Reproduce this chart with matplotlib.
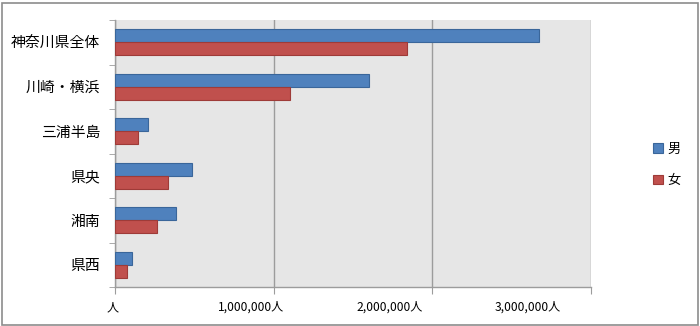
import numpy as np
import matplotlib.pyplot as plt
from matplotlib.ticker import FuncFormatter, FixedLocator
from matplotlib.patches import Rectangle
from matplotlib.transforms import ScaledTranslation

plt.rcParams['font.family'] = ['Noto Sans CJK JP', 'DejaVu Sans']

# 地域別人口（男女）
regions = ['神奈川県全体', '川崎・横浜', '三浦半島', '県央', '湘南', '県西']
male = [2671000, 1602000, 206000, 484000, 387000, 107000]
female = [1842000, 1100000, 145000, 332000, 263000, 78000]
series_names = ['男', '女']
x_ticks = [0, 1000000, 2000000, 3000000]

fig = plt.figure(figsize=(7, 3.26), dpi=100)
ax = fig.add_axes([115 / 700, 1 - 287 / 326, 476 / 700, 267 / 326])

y = np.arange(len(regions))[::-1]
h = 0.292
ax.barh(y + h / 2, male, height=h, color='#4F81BD', edgecolor='#3A669A', linewidth=0.8, label=series_names[0], zorder=3)
ax.barh(y - h / 2, female, height=h, color='#C0504D', edgecolor='#9E3B38', linewidth=0.8, label=series_names[1], zorder=3)

ax.set_facecolor('#E6E6E6')
ax.set_xlim(0, 3000000)
ax.set_ylim(-0.5, len(regions) - 0.5)
ax.set_xticks(x_ticks)
ax.xaxis.set_major_formatter(FuncFormatter(lambda v, p: '人' if v == 0 else f'{int(v):,}人'))
ax.grid(axis='x', color='#9C9C9C', linewidth=1.0, zorder=1)

ax.set_yticks(y)
ax.set_yticklabels(regions)
ax.yaxis.set_minor_locator(FixedLocator(np.arange(-0.5, len(regions), 1.0)))
ax.tick_params(axis='y', which='major', length=0, pad=10.5, labelsize=10.7)
ax.tick_params(axis='y', which='minor', length=4, color='#9C9C9C')
ax.tick_params(axis='x', length=5, color='#9C9C9C', labelsize=8.7, pad=5)

# 目盛ラベルを少し左へずらす
for i, lab in enumerate(ax.get_xticklabels()):
    dx = -(2.5 + 20.2 * i) / 100
    lab.set_transform(lab.get_transform() + ScaledTranslation(dx, 0, fig.dpi_scale_trans))

for s in ['top', 'right']:
    ax.spines[s].set_visible(False)
for s in ['left', 'bottom']:
    ax.spines[s].set_color('#9C9C9C')
    ax.spines[s].set_linewidth(1.0)

fig.legend(loc='center left', bbox_to_anchor=(641 / 700, 1 - 165 / 326), frameon=False,
           handlelength=0.75, handleheight=0.75, handletextpad=0.35, labelspacing=1.4, fontsize=9.5)

# チャート枠
fig.patches.append(Rectangle((1.5 / 700, 1.5 / 326), 696 / 700, 322 / 326, transform=fig.transFigure,
                             fill=False, edgecolor='#8C8C8C', linewidth=1.2))

fig.savefig('out.png', dpi=100)
